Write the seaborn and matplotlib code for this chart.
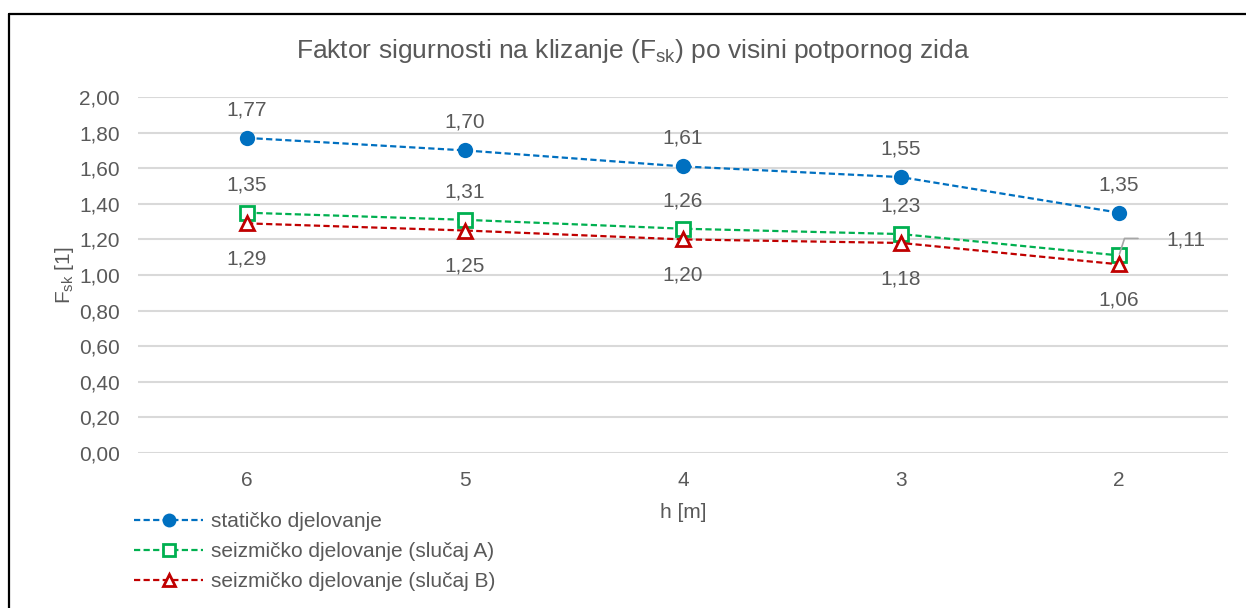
import numpy as np
import pandas as pd
import matplotlib
matplotlib.use('Agg')
import matplotlib.pyplot as plt
from matplotlib.lines import Line2D
import seaborn as sns

# data
h_labels = ['6', '5', '4', '3', '2']
static = [1.77, 1.70, 1.61, 1.55, 1.35]
seis_a = [1.35, 1.31, 1.26, 1.23, 1.11]
seis_b = [1.29, 1.25, 1.20, 1.18, 1.06]
series_names = ['statičko djelovanje',
                'seizmičko djelovanje (slučaj A)',
                'seizmičko djelovanje (slučaj B)']

sns.set_style('white')
plt.rcParams['font.family'] = ['Liberation Sans', 'DejaVu Sans']
plt.rcParams['mathtext.fontset'] = 'custom'
plt.rcParams['mathtext.rm'] = 'Liberation Sans'
plt.rcParams['mathtext.default'] = 'regular'

txt = '#595959'
colors = ['#0070C0', '#00B050', '#C00000']
markers = ['o', 's', '^']
dash = (0, (2.8, 1.5))

df = pd.DataFrame({
    'pos': np.tile(np.arange(len(h_labels)), 3),
    'val': static + seis_a + seis_b,
    'series': np.repeat(series_names, len(h_labels)),
})

fig = plt.figure(figsize=(12.46, 6.08), dpi=100)
ax = fig.add_axes([138 / 1246, 1 - 453 / 608, 1090 / 1246, 356 / 608])

for i, name in enumerate(series_names):
    sub = df[df['series'] == name]
    sns.lineplot(data=sub, x='pos', y='val', ax=ax, color=colors[i],
                 linestyle=dash, linewidth=1.6, marker=markers[i],
                 markersize=11 if i == 0 else 9.5,
                 markerfacecolor=colors[i] if i == 0 else 'white',
                 markeredgecolor=colors[i], markeredgewidth=0 if i == 0 else 2,
                 label=name, legend=False)

def fmt(v):
    return f'{v:.2f}'.replace('.', ',')

lab_kw = dict(fontsize=15, color=txt, ha='center', va='center')
for x, v in enumerate(static):
    ax.annotate(fmt(v), (x, v), xytext=(0, 28), textcoords='offset pixels', **lab_kw)
for x, v in enumerate(seis_a):
    if x == len(seis_a) - 1:
        ax.annotate(fmt(v), (x, v), xytext=(67, 15), textcoords='offset pixels',
                    **lab_kw)
        ax.annotate('', (x, v), xytext=(19, 17), textcoords='offset pixels',
                    arrowprops=dict(arrowstyle='-', color='#A6A6A6', lw=1.2,
                                    shrinkA=0, shrinkB=1,
                                    connectionstyle='angle,angleA=0,angleB=72,rad=0'))
    else:
        ax.annotate(fmt(v), (x, v), xytext=(0, 28), textcoords='offset pixels', **lab_kw)
for x, v in enumerate(seis_b):
    ax.annotate(fmt(v), (x, v), xytext=(0, -36), textcoords='offset pixels', **lab_kw)

ax.set_xlim(-0.5, len(h_labels) - 0.5)
ax.set_ylim(0, 2.0)
ax.set_xticks(range(len(h_labels)))
ax.set_xticklabels(h_labels)
yt = np.arange(0, 2.01, 0.2)
ax.set_yticks(yt)
ax.set_yticklabels([fmt(v) for v in yt])
ax.tick_params(axis='both', length=0, labelsize=15, labelcolor=txt, pad=13)
ax.grid(axis='y', color='#D9D9D9', linewidth=1.5)
ax.set_axisbelow(True)
for s in ax.spines.values():
    s.set_visible(False)

ax.set_xlabel('h [m]', fontsize=15, color=txt, labelpad=9)
ax.set_ylabel('F$_{sk}$ [1]', fontsize=15, color=txt, labelpad=2)
fig.text(633 / 1246, 1 - 51 / 608, 'Faktor sigurnosti na klizanje (F$_{sk}$) po visini potpornog zida',
         fontsize=19, color=txt, ha='center', va='center')

handles = [Line2D([0], [0], color=colors[i], linestyle=dash, linewidth=1.6,
                  marker=markers[i], markersize=10 if i == 0 else 8,
                  markerfacecolor=colors[i] if i == 0 else 'white',
                  markeredgecolor=colors[i], markeredgewidth=0 if i == 0 else 2)
           for i in range(3)]
fig.legend(handles, series_names, loc='upper left', bbox_to_anchor=(126 / 1246, 1 - 504 / 608),
           frameon=False, fontsize=15, labelcolor=txt, handlelength=3.3,
           handletextpad=0.4, labelspacing=0.52, borderaxespad=0, numpoints=1)

# figure frame (only top and left edges visible in the crop)
fig.add_artist(Line2D([9 / 1246, 9 / 1246], [0, 1 - 14 / 608], color='black', lw=1.6,
                      transform=fig.transFigure))
fig.add_artist(Line2D([9 / 1246, 1], [1 - 14 / 608, 1 - 14 / 608], color='black', lw=1.6,
                      transform=fig.transFigure))

fig.savefig('out.png', dpi=100, facecolor='white')
